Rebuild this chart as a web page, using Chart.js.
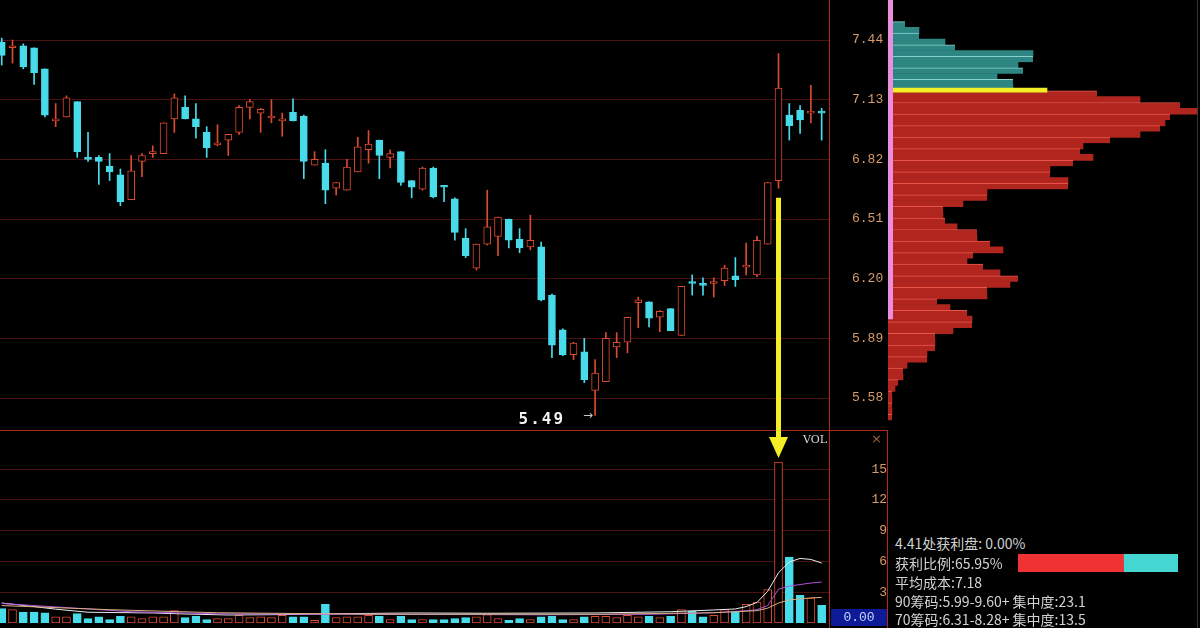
<!DOCTYPE html>
<html><head><meta charset="utf-8">
<script src="https://cdn.jsdelivr.net/npm/chart.js@4.4.0/dist/chart.umd.min.js"></script>
<style>
html,body{margin:0;padding:0;background:#000;width:1200px;height:628px;overflow:hidden;position:relative}
canvas{position:absolute;display:block}
.ln{position:absolute;background:#b3271d}
.txt{position:absolute;left:895px;color:#d2d2d2;font:14px "Noto Sans CJK SC",sans-serif;white-space:nowrap;line-height:18px}
</style></head><body>
<div class="ln" style="left:0;top:430px;width:888px;height:1px"></div>
<div class="ln" style="left:829px;top:0;width:1px;height:628px"></div>
<div class="ln" style="left:887px;top:430px;width:1px;height:198px"></div>
<div style="position:absolute;left:1197px;top:0;width:1px;height:628px;background:#333"></div>
<canvas id="price" width="890" height="430" style="left:0;top:0"></canvas>
<canvas id="vol" width="887" height="198" style="left:0;top:430px"></canvas>
<canvas id="chips" width="312" height="430" style="left:888px;top:0"></canvas>
<canvas id="ratio" width="160" height="18" style="left:1018px;top:554px"></canvas>
<div style="position:absolute;left:803px;top:433px;color:#d8d8d8;font:11px 'DejaVu Serif',serif">VOL</div>
<div style="position:absolute;left:871px;top:431px;color:#a0603c;font:13px 'DejaVu Sans',sans-serif">×</div>
<div style="position:absolute;left:831px;top:609px;width:56px;height:17px;background:#0d1b96;color:#c8d2ff;font:13px 'Liberation Mono',monospace;line-height:17px;text-align:center">0.00</div>
<div class="txt" style="top:534px">4.41处获利盘: 0.00%</div>
<div class="txt" style="top:554px">获利比例:65.95%</div>
<div class="txt" style="top:573px">平均成本:7.18</div>
<div class="txt" style="top:592px">90筹码:5.99-9.60+ 集中度:23.1</div>
<div class="txt" style="top:610px">70筹码:6.31-8.28+ 集中度:13.5</div>
<script>
// daily candles
const openP = [7.43,7.40,7.41,7.40,7.29,7.02,7.04,7.12,6.825,6.83,
  6.785,6.74,6.61,6.81,6.85,6.85,7.03,7.09,7.03,6.96,
  6.895,6.92,6.96,7.09,7.06,7.035,7.02,7.065,7.045,6.79,
  6.80,6.67,6.66,6.755,6.87,6.92,6.83,6.86,6.71,6.665,
  6.775,6.68,6.615,6.41,6.255,6.38,6.42,6.51,6.405,6.365,
  6.365,6.115,5.935,5.805,5.82,5.62,5.665,5.845,5.87,6.075,
  6.08,6.00,6.045,5.905,6.185,6.17,6.175,6.19,6.215,6.26,
  6.22,6.38,6.71,7.05,7.075,7.06,7.065];
const closeP = [7.36,7.41,7.30,7.27,7.05,7.03,7.14,6.86,6.82,6.81,
  6.755,6.60,6.76,6.84,6.855,7.01,7.14,7.03,6.99,6.88,
  6.905,6.95,7.09,7.12,7.08,7.04,7.025,7.02,6.81,6.82,
  6.66,6.70,6.78,6.885,6.90,6.84,6.85,6.70,6.675,6.775,
  6.625,6.675,6.44,6.32,6.38,6.47,6.52,6.40,6.36,6.40,
  6.09,5.855,5.805,5.865,5.675,5.71,5.89,5.87,6.00,6.09,
  5.995,6.03,5.93,6.16,6.175,6.165,6.18,6.255,6.195,6.265,
  6.40,6.70,7.19,6.995,7.025,7.065,7.06];
const highP = [7.45,7.44,7.42,7.40,7.29,7.11,7.15,7.12,6.96,6.84,
  6.85,6.77,6.84,6.85,6.89,7.01,7.16,7.15,7.11,6.99,
  7.00,6.95,7.10,7.13,7.085,7.13,7.06,7.135,7.05,6.86,
  6.87,6.70,6.82,6.935,6.97,6.92,6.87,6.86,6.71,6.78,
  6.78,6.685,6.62,6.46,6.38,6.66,6.52,6.51,6.46,6.53,
  6.39,6.12,5.94,5.87,5.89,5.78,5.92,5.92,6.00,6.105,
  6.08,6.035,6.045,6.16,6.22,6.205,6.205,6.27,6.31,6.385,
  6.42,6.70,7.37,7.11,7.10,7.205,7.085];
const lowP = [7.31,7.32,7.29,7.21,7.04,6.99,7.04,6.83,6.81,6.69,
  6.71,6.58,6.61,6.73,6.83,6.85,6.96,7.03,6.93,6.83,
  6.89,6.84,6.95,7.03,6.96,7.01,6.94,7.02,6.72,6.79,
  6.59,6.635,6.66,6.755,6.80,6.72,6.775,6.685,6.62,6.66,
  6.62,6.60,6.40,6.31,6.245,6.375,6.32,6.36,6.335,6.35,
  6.085,5.79,5.80,5.78,5.66,5.49,5.665,5.79,5.815,5.945,
  5.95,5.925,5.93,5.905,6.115,6.115,6.105,6.165,6.16,6.22,
  6.21,6.38,6.67,6.92,6.955,7.01,6.92];
const volume = [1.4,1.3,1.07,1.07,0.98,0.59,0.59,0.91,0.42,0.59,
  0.33,0.65,0.59,0.42,0.59,0.59,1.2,0.52,0.65,0.33,
  0.42,0.42,0.75,0.52,0.59,0.52,0.75,0.59,0.59,0.26,
  1.82,0.52,0.59,0.59,0.75,0.65,0.33,0.65,0.33,0.33,
  0.33,0.33,0.42,0.52,0.59,0.81,0.42,0.26,0.42,0.33,
  0.59,0.65,0.33,0.33,0.59,0.65,0.65,0.52,0.75,0.59,
  0.65,0.52,0.65,1.3,1.17,0.59,0.75,1.3,1.17,1.82,
  2.05,3.25,15.7,6.44,2.7,2.44,1.72];
// volume averages, [candle, value]
const ma5 = [[0,1.95],[3,1.6],[5,1.35],[8,1.05],[14,0.98],[17,0.88],[21,0.78],[26,0.82],[31,0.9],[38,0.98],[45,0.95],[55,0.98],[62,1.1],[66,1.27],[68,1.37],[69,1.6],[70,2.0],[71,3.1],[72,4.9],[73,5.95],[74,6.3],[75,6.2],[76,5.85]];
const ma10 = [[0,1.9],[6,1.5],[12,1.1],[20,0.9],[35,0.85],[50,0.8],[60,0.85],[66,1.0],[69,1.2],[70,1.3],[71,1.7],[72,3.3],[73,3.6],[74,3.75],[75,3.9],[76,4.0]];
const ma20 = [[0,1.7],[10,1.3],[20,1.0],[35,0.85],[55,0.85],[66,1.0],[70,1.2],[71,1.45],[72,1.95],[73,2.25],[74,2.35],[75,2.45],[76,2.5]];
const priceTicks = [7.44,7.13,6.82,6.51,6.20,5.89,5.58];
const volTicks = [3,6,9,12,15];
// chip distribution
const chipPrice = [7.52,7.49,7.46,7.43,7.40,7.37,7.34,7.31,7.28,7.25,7.22,7.19,7.16,7.13,7.10,7.07,7.04,7.01,6.98,6.95,
  6.92,6.89,6.86,6.83,6.80,6.77,6.74,6.71,6.68,6.65,6.62,6.59,6.56,6.53,6.50,6.47,6.44,6.41,6.38,6.35,
  6.32,6.29,6.26,6.23,6.20,6.17,6.14,6.11,6.08,6.05,6.02,5.99,5.96,5.93,5.90,5.87,5.84,5.81,5.78,5.75,
  5.72,5.69,5.66,5.63,5.60,5.57,5.54,5.51,5.48];
const chipVol = [17,31,31,57,67,145,145,130,135,109,125,125,209,252,292,309,282,277,272,252,
  222,195,192,205,185,162,162,180,180,99,99,75,55,55,57,69,89,89,102,115,
  85,79,95,112,130,122,99,99,49,62,79,84,84,65,47,47,47,39,39,19,
  15,15,10,7,4,4,4,4,4];
const avgCost = 7.18, avgCostChip = 159;
const chipRange = [5.99, 9.60];
const profitRatio = [65.95], lossRatio = [34.05];
const arrowIndex = 72, arrowFromPrice = 6.62, arrowHeadVol = 18.15, arrowTipVol = 16.1;

const RED = '#dc4a30', CYAN = '#48dcea', GRID = '#4a1111', AXIS = '#d89a6a', YELLOW = '#f4ee26';
const xMin = -0.16, xMax = 76.68;
Chart.defaults.animation = false;
Chart.defaults.responsive = false;
Chart.defaults.plugins.legend.display = false;
Chart.defaults.plugins.tooltip.enabled = false;
const isUp = i => closeP[i] >= openP[i];
const tickFont = {family: "'Liberation Mono', monospace", size: 13};
// fixed axis width, no extra vertical padding from the tick labels
const fitAxis = w => s => { s.width = w; s.paddingTop = 0; s.paddingBottom = 0; };

const lowLabel = {
  id: 'lowLabel',
  afterDatasetsDraw(chart) {
    const {ctx, scales: {x, y}} = chart;
    const low = Math.min(...lowP), i = lowP.indexOf(low);
    const px = x.getPixelForValue(i), py = y.getPixelForValue(low);
    ctx.save();
    ctx.font = "bold 16px 'DejaVu Sans Mono', monospace";
    ctx.letterSpacing = '2px';
    ctx.fillStyle = '#f2f2f2'; ctx.textAlign = 'right'; ctx.textBaseline = 'middle';
    ctx.fillText(low.toFixed(2), px - 30, py + 4);
    ctx.letterSpacing = '0px';
    ctx.font = "12px 'DejaVu Sans', sans-serif"; ctx.fillStyle = '#c8c8c8'; ctx.textAlign = 'left';
    ctx.fillText('→', px - 12, py + 1);
    // yellow arrow shaft
    const ax = x.getPixelForValue(arrowIndex);
    ctx.strokeStyle = YELLOW; ctx.lineWidth = 5;
    ctx.beginPath(); ctx.moveTo(ax, y.getPixelForValue(arrowFromPrice)); ctx.lineTo(ax, chart.height); ctx.stroke();
    ctx.restore();
  }
};

const xAxis = {type: 'linear', min: xMin, max: xMax, offset: false, display: false};

new Chart(document.getElementById('price'), {
  type: 'bar',
  data: { datasets: [
    { data: openP.map((o, i) => ({x: i, y: [o, closeP[i]]})), grouped: false, order: 0,
      barThickness: 7, minBarLength: 2, borderWidth: 1, borderSkipped: false,
      borderColor: c => isUp(c.dataIndex) ? RED : CYAN,
      backgroundColor: c => isUp(c.dataIndex) ? '#000' : CYAN },
    { data: lowP.map((l, i) => ({x: i, y: [l, highP[i]]})), grouped: false, order: 1,
      barThickness: 1, borderWidth: 0,
      backgroundColor: c => isUp(c.dataIndex) ? RED : CYAN }
  ]},
  options: {
    devicePixelRatio: 1,
    layout: {padding: 0, autoPadding: false},
    scales: {
      x: xAxis,
      y: {type: 'linear', position: 'right', min: 5.414, max: 7.648, offset: false, grace: 0,
        afterBuildTicks: s => { s.ticks = priceTicks.map(v => ({value: v})); },
        afterFit: fitAxis(61),
        grid: {color: GRID, drawTicks: false, offset: false},
        border: {display: false},
        ticks: {color: AXIS, font: tickFont, padding: 23, callback: v => v.toFixed(2)}}
    }
  },
  plugins: [lowLabel]
});

const volArrow = {
  id: 'volArrow',
  afterDatasetsDraw(chart) {
    const {ctx, scales: {x, y}} = chart;
    const ax = x.getPixelForValue(arrowIndex), hy = y.getPixelForValue(arrowHeadVol), ty = y.getPixelForValue(arrowTipVol);
    ctx.save();
    ctx.strokeStyle = YELLOW; ctx.fillStyle = YELLOW; ctx.lineWidth = 5;
    ctx.beginPath(); ctx.moveTo(ax, 0); ctx.lineTo(ax, hy + 1); ctx.stroke();
    ctx.beginPath(); ctx.moveTo(ax - 9.5, hy); ctx.lineTo(ax + 9.5, hy); ctx.lineTo(ax, ty); ctx.closePath(); ctx.fill();
    ctx.restore();
  }
};
const maLine = (pts, color) => ({type: 'line', data: pts.map(([i, v]) => ({x: i, y: v})),
  borderColor: color, borderWidth: 1, pointRadius: 0, order: -1});

new Chart(document.getElementById('vol'), {
  type: 'bar',
  data: { datasets: [
    { data: volume.map((v, i) => ({x: i, y: v})), barThickness: 8, borderWidth: 1, borderSkipped: false,
      borderColor: c => isUp(c.dataIndex) ? RED : CYAN,
      backgroundColor: c => isUp(c.dataIndex) ? '#000' : CYAN },
    maLine(ma20, '#d8b080'),
    maLine(ma10, '#b050e0'),
    maLine(ma5, '#ececec')
  ]},
  options: {
    devicePixelRatio: 1,
    layout: {padding: {top: 1, bottom: 5, left: 0, right: 0}, autoPadding: false},
    scales: {
      x: xAxis,
      y: {type: 'linear', position: 'right', min: 0, max: 18.73, offset: false, grace: 0,
        afterBuildTicks: s => { s.ticks = volTicks.map(v => ({value: v})); },
        afterFit: fitAxis(58),
        grid: {color: GRID, drawTicks: false, offset: false},
        border: {display: false},
        ticks: {color: AXIS, font: tickFont, padding: 32, crossAlign: 'far'}}
    }
  },
  plugins: [volArrow]
});

new Chart(document.getElementById('chips'), {
  type: 'bar',
  data: { datasets: [
    { type: 'line', data: chipRange.map(p => ({x: 2.5, y: p})), borderColor: '#ec8ede', borderWidth: 5, pointRadius: 0, order: -2 },
    { data: [{x: avgCostChip, y: avgCost}], backgroundColor: YELLOW, barThickness: 4, grouped: false, order: -1 },
    { data: chipPrice.map((p, i) => ({x: chipVol[i], y: p})), barThickness: 6, grouped: false, order: 0,
      backgroundColor: c => chipPrice[c.dataIndex] > avgCost ? '#2e8682' : '#b0261f',
      borderColor: c => chipPrice[c.dataIndex] > avgCost ? '#86d2cc' : '#e8544a',
      borderWidth: c => c.dataIndex % 2 ? 0 : {top: 1, right: 0, bottom: 0, left: 0} }
  ]},
  options: {
    devicePixelRatio: 1, indexAxis: 'y',
    layout: {padding: 0, autoPadding: false},
    scales: {
      x: {type: 'linear', min: 0, max: 312, offset: false, display: false},
      y: {type: 'linear', min: 5.414, max: 7.648, offset: false, display: false}
    }
  }
});

new Chart(document.getElementById('ratio'), {
  type: 'bar',
  data: { labels: [''], datasets: [
    {data: profitRatio, backgroundColor: '#f03232'},
    {data: lossRatio, backgroundColor: '#44d6d0'}
  ]},
  options: {
    devicePixelRatio: 1, indexAxis: 'y',
    layout: {padding: 0, autoPadding: false},
    datasets: {bar: {barPercentage: 1, categoryPercentage: 1}},
    scales: {
      x: {stacked: true, min: 0, max: 100, display: false},
      y: {stacked: true, display: false}
    }
  }
});
</script>
</body></html>
